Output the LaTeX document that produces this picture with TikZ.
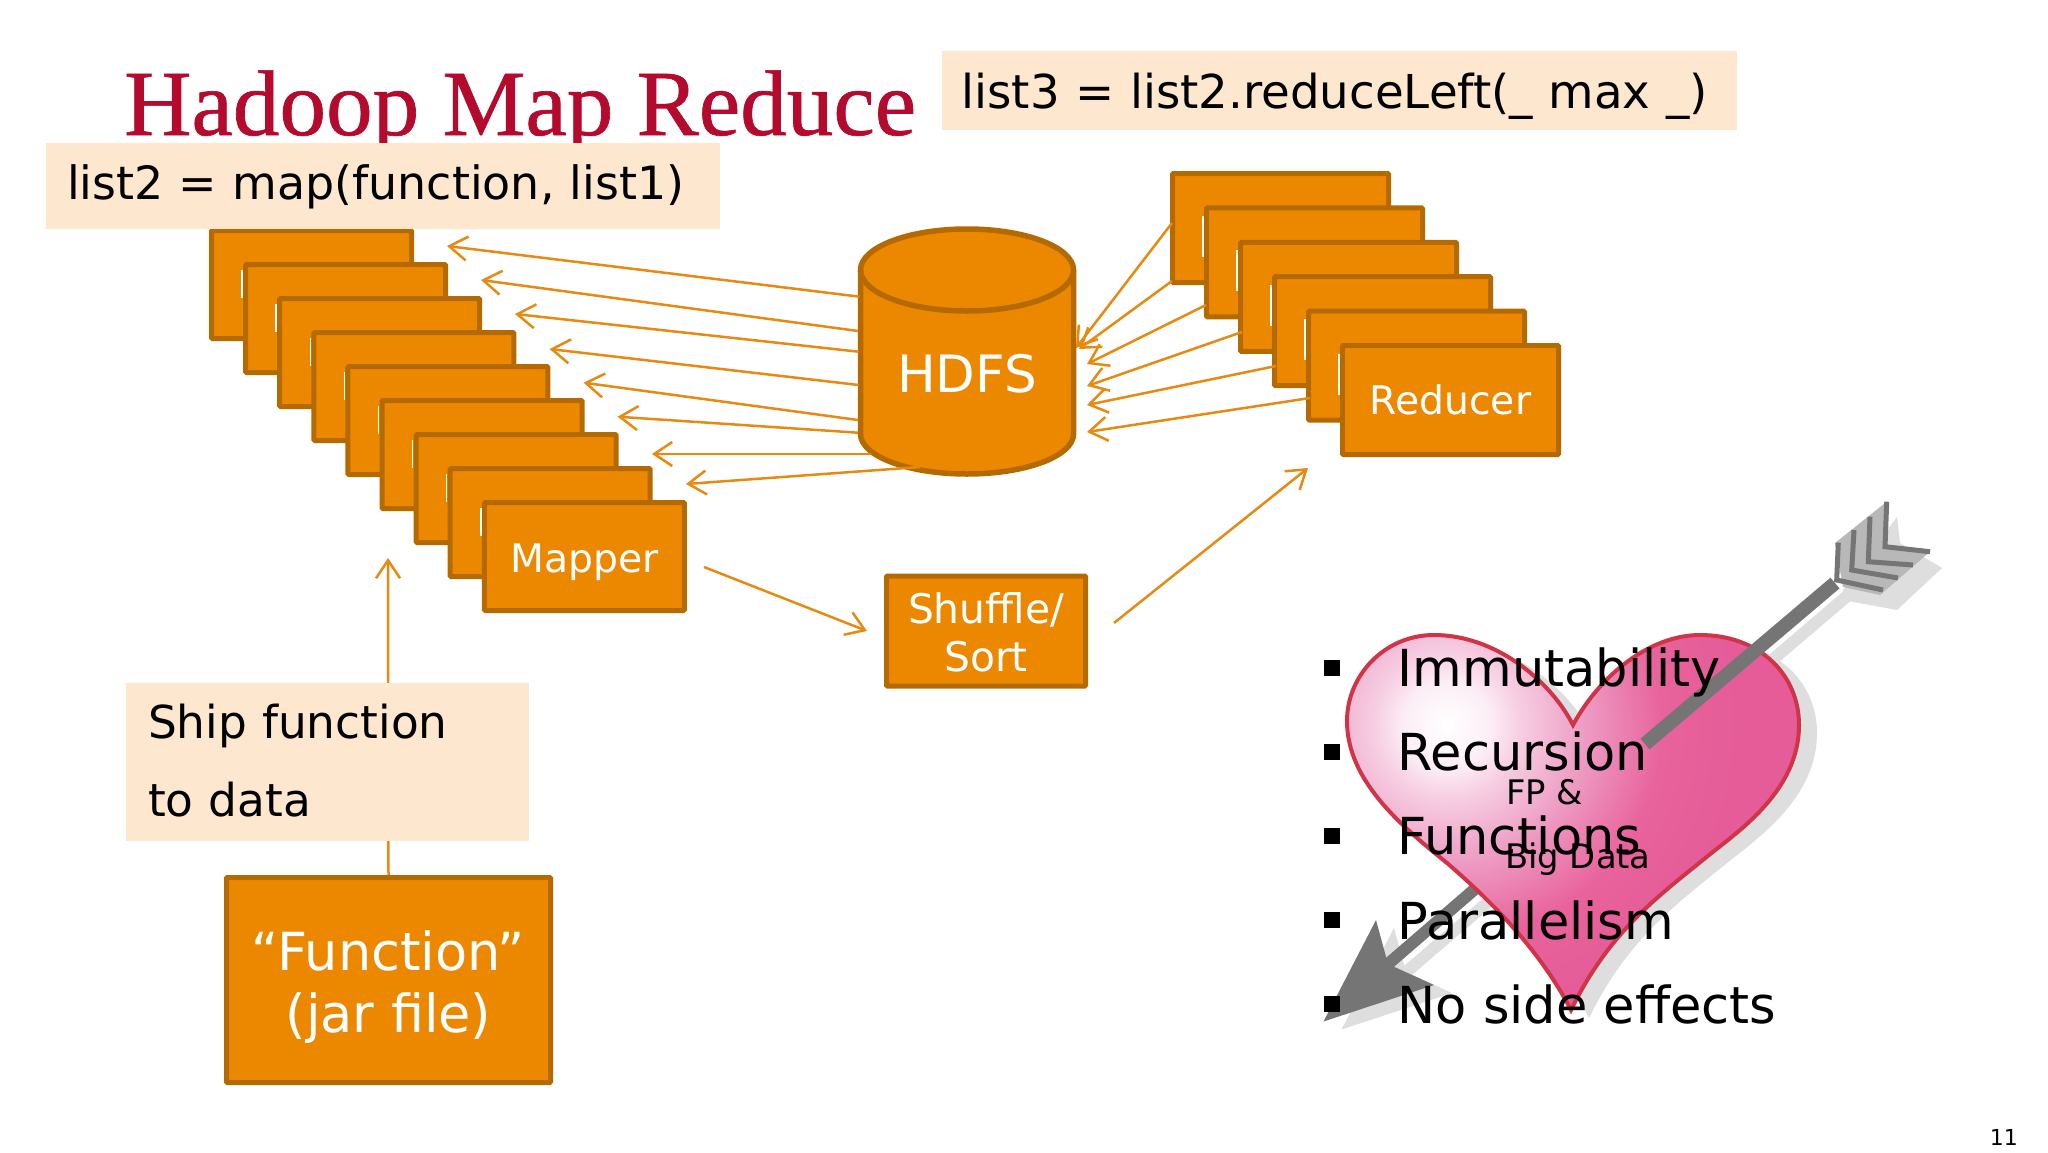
\documentclass[tikz,border=0pt]{standalone}
\usepackage{fontspec}
\setmainfont{DejaVu Sans}
\newfontfamily\titlefont[FakeBold=0.7]{Liberation Serif}
\usetikzlibrary{arrows.meta}
\definecolor{boxfill}{HTML}{EB8800}
\definecolor{boxline}{HTML}{B56A00}
\definecolor{flow}{HTML}{E68A12}
\definecolor{note}{HTML}{FDE8CF}
\definecolor{titlered}{HTML}{B40A2D}
\definecolor{shaft}{HTML}{757575}
\definecolor{shadowgrey}{HTML}{DEDEDE}
\definecolor{heartline}{HTML}{CF3448}
\definecolor{hA}{HTML}{FCEEF6}
\definecolor{hB}{HTML}{F7CFE3}
\definecolor{hC}{HTML}{EEA0C6}
\definecolor{hD}{HTML}{E8629B}
\definecolor{hE}{HTML}{E55C98}
\pgfdeclareradialshading{heartglow}{\pgfpoint{0bp}{0bp}}{%
 color(0bp)=(white);
 color(3.6bp)=(hA);
 color(6bp)=(hB);
 color(11bp)=(hC);
 color(18bp)=(hD);
 color(25bp)=(hE);
 color(50bp)=(hE)}
\newcommand{\fsz}[2]{\fontsize{#1}{#2}\selectfont}
\newcommand{\heartpath}{(1573,725) .. controls (1600,675) and (1650,635) .. (1700,635)
 .. controls (1760,635) and (1799,675) .. (1799,725)
 .. controls (1799,790) and (1740,830) .. (1709,855)
 .. controls (1660,895) and (1610,930) .. (1571,1010)
 .. controls (1540,950) and (1490,900) .. (1447,863)
 .. controls (1400,825) and (1347,780) .. (1347,721)
 .. controls (1347,675) and (1385,635) .. (1434,635)
 .. controls (1495,635) and (1550,680) .. (1573,725) -- cycle}
\newcommand{\arrowhead}{(1323.5,1021.5) -- (1376,920) -- (1388,964) -- (1434,985) -- cycle}
\tikzset{
 x=1pt,y=-1pt,
 boxnode/.style={rectangle,draw=boxline,fill=boxfill,line width=5pt,inner sep=0pt,
   rounded corners=1pt,text=white,align=center},
 mapbox/.style={boxnode,minimum width=200pt,minimum height=108pt},
 redbox/.style={boxnode,minimum width=216pt,minimum height=109pt},
 notebox/.style={rectangle,fill=note,inner ysep=0pt,text=black,align=left},
 flowline/.style={draw=flow,line width=2.5pt,-{Straight Barb[length=18pt,width=24pt,line width=2.5pt]}},
 sliver/.style={draw=white,line width=1.5pt},
 listitem/.style={anchor=base west,inner sep=0pt,font=\fsz{51}{60}},
 bulletbox/.style={rectangle,fill=black,minimum size=16pt,inner sep=0pt},
}
\begin{document}
\begin{tikzpicture}
\useasboundingbox (0,0) rectangle (2048,1152);
\fill[white] (0,0) rectangle (2048,1152);

% title
\node[anchor=base west,inner sep=0pt,text=titlered,font=\titlefont\fsz{93.2}{100}] (title) at (124,135) {Hadoop Map Reduce};

% mappers
\foreach \i in {0,...,7}{
  \node[mapbox] (m\i) at ({311.5+34.1*\i},{284.5+34*\i}) {};
  \draw[sliver] ({208+34.1*\i},{270+34*\i-34}) -- ({208+34.1*\i},{298+34*\i-34});
}
\node[mapbox,text height=32pt,text depth=0pt,font=\fsz{39.3}{46}] (mapper) at ({311.5+34.1*8},{284.5+34*8}) {Mapper};
\draw[sliver] ({208+34.1*8},{270+34*7}) -- ({208+34.1*8},{298+34*7});

% reducers
\foreach \i in {0,...,4}{
  \node[redbox] (r\i) at ({1280.5+34*\i},{228+34.4*\i}) {};
}
\node[redbox,text height=29pt,text depth=0pt,font=\fsz{39.3}{46}] (reducer) at ({1280.5+34*5},{228+34.4*5}) {Reducer};
\foreach \i in {1,...,5}{
  \draw[sliver] ({1169+34*\i},{216+34.4*(\i-1)}) -- ({1169+34*\i},{257+34.4*(\i-1)});
}

% HDFS
\draw[draw=boxline,fill=boxfill,line width=5.5pt]
  (860.5,270) arc[start angle=180,end angle=360,x radius=106.5,y radius=41] -- (1073.5,434)
  arc[start angle=0,end angle=180,x radius=106.5,y radius=40] -- cycle;
\draw[draw=boxline,line width=5.5pt] (860.5,270) arc[start angle=180,end angle=0,x radius=106.5,y radius=41];
\node[inner sep=0pt,anchor=base,text=white,font=\fsz{51.5}{60}] (hdfs) at (967,392) {HDFS};

% shuffle
\node[boxnode,minimum width=199pt,minimum height=110pt,font=\fsz{40.8}{48}] (shuffle) at (986,631) {\rule{0pt}{34pt}Shuffle/\\Sort};

% function
\node[boxnode,minimum width=324pt,minimum height=205pt,font=\fsz{52.5}{62}] (function) at (388.5,980) {\rule{0pt}{53pt}“Function”\\(jar file)};

% connectors: free ends
\foreach \n/\ax/\ay/\bx/\by in {
  1/859.5/296.7/447/246,
  2/858/331/481/280,
  3/858.6/351.7/515/314,
  4/858.6/385/549.6/349,
  5/858/420/583.6/382.7,
  6/858/432.7/617.6/416.7,
  7/871/454/652/454,
  8/920/467/686/484}{
  \coordinate (hdfsL\n) at (\ax,\ay);
  \coordinate (mapIn\n) at (\bx,\by);
  \draw[flowline] (hdfsL\n) -- (mapIn\n);
}
\foreach \n/\ax/\ay/\bx/\by in {
  1/1172/223/1076/348,
  2/1172/281/1079/349,
  3/1206/305/1087/364,
  4/1242/332/1087/386,
  5/1276/366/1087/405,
  6/1310/398/1087/432}{
  \coordinate (redOut\n) at (\ax,\ay);
  \coordinate (hdfsR\n) at (\bx,\by);
  \draw[flowline] (redOut\n) -- (hdfsR\n);
}
\coordinate (mapOut) at (704,567);
\coordinate (shufIn) at (867,631);
\draw[flowline] (mapOut) -- (shufIn);
\coordinate (shufOut) at (1114,623);
\coordinate (redIn) at (1308,468);
\draw[flowline] (shufOut) -- (redIn);
\coordinate (mapShip) at (388,558);
\draw[flowline] (function.north) -- (mapShip);

% notes
\node[notebox,inner xsep=21pt,text width=632pt,minimum height=86pt,text height=35pt,text depth=9pt,font=\fsz{45.9}{50}] (list2) at (383,186) {list2 = map(function, list1)};
\node[notebox,inner xsep=20pt,text width=755pt,minimum height=79pt,text height=36pt,text depth=0pt,font=\fsz{46.7}{50}] (list3) at (1339,90.5) {list3 = list2.reduceLeft(\_ max \_)};
\node[notebox,inner xsep=22pt,text width=359pt,minimum height=158pt,font=\fsz{45.4}{78}] (ship) at (327.5,762) {Ship function\\to data\rule[-3pt]{0pt}{0pt}};

% heart and arrow: shadow
\begin{scope}[shift={(18,8)}]
  \fill[shadowgrey] \heartpath;
  \fill[shadowgrey] \arrowhead;
  \draw[shadowgrey,line width=12pt] (1388,964) -- (1835,583);
\end{scope}
\fill[shadowgrey] (1897,517) -- (1900,543) -- (1942,568) -- (1897,610) -- (1843,600) -- (1843,590) -- cycle;

% arrow behind the heart
\fill[shaft] \arrowhead;
\draw[shaft,line width=12pt] (1388,964) -- (1490,876);

% heart
\fill[hE] \heartpath;
\begin{scope}
  \clip \heartpath;
  \shade[shading=heartglow] (1447,725) circle[radius=300pt];
\end{scope}
\draw[heartline,line width=4pt] \heartpath;

% arrow in front of the heart
\draw[shaft,line width=14pt] (1645,744) -- (1835,583);
\fill[black!28] (1835,543) -- (1886.7,501.7) -- (1885,546.7) -- (1930,551.7) -- (1880,595) -- (1843,587) -- cycle;
\draw[shaft,line width=5pt] (1886.7,501.7) -- (1885,546.7) -- (1930,551.7);
\draw[shaft,line width=5pt] (1870,516.7) -- (1868.3,561.7) -- (1913,565);
\draw[shaft,line width=5pt] (1854,530) -- (1851.7,570) -- (1898,578);
\draw[shaft,line width=5pt] (1838.3,542.7) -- (1836.7,580) -- (1883,590);

% list
\foreach \n/\t [count=\k from 0] in {a/Immutability,b/Recursion,c/Functions,d/Parallelism,e/No side effects}{
  \node[bulletbox] (bullet\n) at (1331.5,{667.5+84.2*\k}) {};
  \node[listitem] (item\n) at (1397.5,{686+84.4*\k}) {\t};
}
\node[anchor=base west,inner sep=0pt,font=\fsz{33.8}{40}] (fp) at (1506,804.5) {FP \&};
\node[anchor=base west,inner sep=0pt,font=\fsz{33.8}{40}] (bigdata) at (1505,868) {Big Data};

% page number
\node[anchor=base east,inner sep=0pt,font=\fsz{22}{24}] (pageno) at (2018,1145) {11};
\end{tikzpicture}
\end{document}
